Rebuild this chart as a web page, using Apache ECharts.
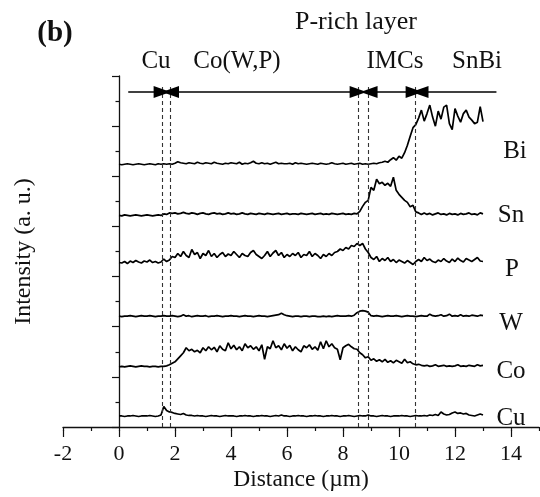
<!DOCTYPE html>
<html>
<head>
<meta charset="utf-8">
<script src="https://cdn.jsdelivr.net/npm/echarts@6/dist/echarts.min.js"></script>
<style>
  html, body { margin: 0; padding: 0; background: #fff; }
  #chart { width: 540px; height: 497px; }
</style>
</head>
<body>
<div id="chart"></div>
<script>
// sampling of the line scan, µm
var scanStart = 0
var scanStep = 0.1

// intensity profiles (a. u., vertically offset as in the figure)
var cu = [
  0.22,0.22,0.21,0.22,0.22,0.23,0.22,0.21,0.22,0.22,
  0.22,0.23,0.22,0.21,0.22,0.24,0.41,0.33,0.30,0.29,
  0.27,0.26,0.25,0.27,0.24,0.23,0.23,0.22,0.23,0.22,
  0.22,0.21,0.22,0.23,0.22,0.22,0.21,0.22,0.23,0.22,
  0.22,0.22,0.21,0.22,0.22,0.23,0.22,0.22,0.21,0.22,
  0.22,0.23,0.22,0.22,0.21,0.22,0.23,0.22,0.24,0.22,
  0.22,0.21,0.22,0.22,0.23,0.22,0.22,0.21,0.22,0.22,
  0.23,0.22,0.22,0.21,0.22,0.22,0.23,0.22,0.22,0.21,
  0.22,0.22,0.23,0.22,0.21,0.22,0.23,0.22,0.22,0.24,
  0.22,0.22,0.21,0.22,0.23,0.22,0.22,0.21,0.22,0.22,
  0.22,0.23,0.22,0.22,0.21,0.22,0.23,0.22,0.22,0.23,
  0.22,0.24,0.23,0.25,0.23,0.30,0.26,0.24,0.25,0.28,
  0.30,0.27,0.28,0.26,0.27,0.24,0.23,0.22,0.24,0.26,
  0.24
]
var co = [
  1.20,1.21,1.20,1.21,1.22,1.21,1.20,1.21,1.22,1.21,
  1.21,1.20,1.21,1.21,1.20,1.21,1.21,1.22,1.24,1.27,
  1.30,1.36,1.42,1.48,1.58,1.52,1.55,1.50,1.53,1.48,
  1.58,1.52,1.60,1.54,1.59,1.50,1.62,1.55,1.52,1.68,
  1.56,1.63,1.54,1.60,1.52,1.66,1.58,1.62,1.55,1.60,
  1.52,1.64,1.35,1.60,1.56,1.72,1.58,1.62,1.54,1.66,
  1.57,1.63,1.52,1.60,1.54,1.50,1.62,1.58,1.64,1.55,
  1.60,1.53,1.70,1.56,1.72,1.60,1.66,1.58,1.55,1.34,
  1.58,1.62,1.65,1.60,1.56,1.55,1.48,1.44,1.38,1.40,
  1.33,1.36,1.31,1.34,1.30,1.35,1.29,1.32,1.28,1.33,
  1.30,1.27,1.35,1.28,1.30,1.26,1.24,1.25,1.23,1.22,
  1.23,1.21,1.22,1.24,1.21,1.22,1.23,1.21,1.22,1.21,
  1.22,1.24,1.21,1.22,1.21,1.23,1.22,1.21,1.24,1.22,
  1.23
]
var w = [
  2.21,2.20,2.21,2.21,2.22,2.21,2.20,2.21,2.22,2.21,
  2.21,2.22,2.21,2.20,2.21,2.21,2.22,2.21,2.21,2.22,
  2.21,2.20,2.21,2.24,2.21,2.22,2.20,2.21,2.22,2.21,
  2.21,2.22,2.20,2.21,2.21,2.22,2.21,2.20,2.21,2.21,
  2.22,2.21,2.21,2.20,2.21,2.22,2.21,2.21,2.20,2.21,
  2.22,2.21,2.21,2.20,2.21,2.22,2.23,2.24,2.27,2.24,
  2.22,2.21,2.20,2.21,2.21,2.20,2.21,2.21,2.20,2.21,
  2.21,2.20,2.20,2.21,2.20,2.21,2.20,2.21,2.22,2.21,
  2.21,2.21,2.22,2.21,2.23,2.28,2.31,2.32,2.31,2.29,
  2.22,2.21,2.22,2.21,2.20,2.21,2.22,2.21,2.21,2.22,
  2.21,2.20,2.21,2.22,2.21,2.21,2.20,2.21,2.22,2.21,
  2.21,2.25,2.22,2.21,2.22,2.24,2.21,2.22,2.25,2.21,
  2.22,2.21,2.24,2.21,2.22,2.21,2.23,2.22,2.21,2.23,
  2.22
]
var p = [
  3.28,3.27,3.30,3.26,3.31,3.28,3.32,3.29,3.27,3.31,
  3.29,3.33,3.28,3.30,3.27,3.29,3.35,3.30,3.33,3.40,
  3.38,3.46,3.40,3.50,3.42,3.38,3.54,3.44,3.48,3.36,
  3.46,3.42,3.52,3.40,3.46,3.38,3.44,3.48,3.40,3.45,
  3.42,3.50,3.44,3.38,3.46,3.42,3.40,3.48,3.52,3.44,
  3.40,3.36,3.42,3.50,3.40,3.47,3.52,3.42,3.48,3.38,
  3.44,3.40,3.46,3.42,3.48,3.38,3.44,3.42,3.50,3.40,
  3.46,3.42,3.36,3.44,3.40,3.46,3.42,3.48,3.50,3.55,
  3.52,3.58,3.55,3.62,3.60,3.66,3.62,3.66,3.55,3.48,
  3.38,3.34,3.40,3.30,3.36,3.32,3.38,3.30,3.34,3.28,
  3.33,3.30,3.27,3.32,3.28,3.24,3.30,3.34,3.30,3.38,
  3.32,3.35,3.30,3.28,3.33,3.30,3.36,3.31,3.28,3.35,
  3.30,3.37,3.32,3.29,3.36,3.33,3.30,3.34,3.38,3.31,
  3.30
]
var sn = [
  4.22,4.21,4.23,4.22,4.21,4.22,4.23,4.22,4.21,4.22,
  4.23,4.22,4.21,4.22,4.23,4.22,4.25,4.24,4.27,4.26,
  4.27,4.25,4.26,4.28,4.26,4.25,4.27,4.26,4.24,4.26,
  4.27,4.25,4.24,4.26,4.27,4.25,4.26,4.24,4.25,4.27,
  4.25,4.26,4.24,4.25,4.27,4.25,4.24,4.26,4.25,4.24,
  4.26,4.25,4.24,4.26,4.25,4.24,4.25,4.26,4.24,4.25,
  4.26,4.24,4.25,4.25,4.24,4.26,4.25,4.24,4.25,4.26,
  4.24,4.25,4.26,4.24,4.25,4.24,4.26,4.25,4.24,4.25,
  4.26,4.24,4.25,4.24,4.26,4.25,4.30,4.40,4.48,4.52,
  4.78,4.72,4.94,4.85,4.88,4.82,4.86,4.80,4.98,4.72,
  4.64,4.58,4.52,4.48,4.39,4.42,4.29,4.27,4.24,4.27,
  4.24,4.26,4.23,4.25,4.27,4.24,4.25,4.23,4.26,4.24,
  4.25,4.23,4.26,4.24,4.25,4.27,4.24,4.25,4.23,4.27,
  4.25
]
var bi = [
  5.24,5.23,5.24,5.25,5.24,5.23,5.24,5.25,5.24,5.23,
  5.24,5.25,5.24,5.23,5.25,5.24,5.25,5.24,5.25,5.24,
  5.26,5.29,5.27,5.26,5.25,5.27,5.26,5.25,5.28,5.26,
  5.25,5.27,5.26,5.25,5.28,5.26,5.25,5.24,5.26,5.25,
  5.27,5.26,5.25,5.28,5.24,5.26,5.25,5.27,5.30,5.26,
  5.25,5.27,5.25,5.26,5.24,5.26,5.28,5.25,5.26,5.25,
  5.25,5.26,5.24,5.27,5.25,5.26,5.25,5.24,5.25,5.26,
  5.25,5.24,5.26,5.25,5.24,5.25,5.27,5.25,5.24,5.25,
  5.26,5.24,5.25,5.26,5.24,5.25,5.26,5.24,5.25,5.24,
  5.25,5.26,5.25,5.27,5.28,5.30,5.28,5.33,5.37,5.32,
  5.40,5.36,5.47,5.62,5.80,5.97,6.03,6.16,6.32,6.10,
  6.25,6.42,6.18,6.00,6.30,6.14,6.38,6.42,6.05,5.93,
  6.35,6.20,6.08,6.25,6.32,6.18,6.12,6.05,6.08,6.39,
  6.09
]

var profiles = [
  { name: 'Cu', values: cu },
  { name: 'Co', values: co },
  { name: 'W', values: w },
  { name: 'P', values: p },
  { name: 'Sn', values: sn },
  { name: 'Bi', values: bi }
]

// layer boundaries (dashed lines), µm
var boundaries = [1.54, 1.83, 8.54, 8.9, 10.57]
// arrows above the profiles: [from, to, head at start, head at end]
var arrows = [
  [0.33, 1.54, false, true],
  [1.84, 8.54, true, true],
  [8.93, 10.54, true, true],
  [10.75, 13.48, true, false]
]
var arrowY = 6.68
var dashTop = 6.84

var xTicksMajor = { min: -2, max: 14, interval: 2 }

var serif = '"Liberation Serif", "Times New Roman", serif'

var chart = echarts.init(document.getElementById('chart'), null, { renderer: 'canvas' })

var series = profiles.map(function (prof) {
  return {
    name: prof.name,
    type: 'line',
    xAxisIndex: 0,
    yAxisIndex: 0,
    symbol: 'none',
    silent: true,
    lineStyle: { color: '#000', width: 1.7 },
    data: prof.values.map(function (v, i) {
      return [+(scanStart + i * scanStep).toFixed(2), v]
    })
  }
})

var markData = []
boundaries.forEach(function (b) {
  markData.push([
    { coord: [b, 0], symbol: 'none', lineStyle: { type: [4, 3], color: '#333', width: 1.1 } },
    { coord: [b, dashTop], symbol: 'none' }
  ])
})
arrows.forEach(function (a) {
  markData.push([
    { coord: [a[0], arrowY], symbol: a[2] ? 'triangle' : 'none', symbolSize: [12, 17],
      lineStyle: { type: 'solid', color: '#000', width: 1.6 } },
    { coord: [a[1], arrowY], symbol: a[3] ? 'triangle' : 'none', symbolSize: [12, 17] }
  ])
})
series[0].markLine = {
  silent: true,
  animation: false,
  label: { show: false },
  emphasis: { disabled: true },
  itemStyle: { color: '#000' },
  data: markData
}

function txt(text, x, y, size, bold) {
  return {
    type: 'text',
    x: x, y: y,
    silent: true,
    style: {
      text: text,
      fill: '#111',
      font: (bold ? 'bold ' : '') + size + 'px ' + serif,
      align: 'center', verticalAlign: 'middle',
      textAlign: 'center', textVerticalAlign: 'middle'
    }
  }
}

var option = {
  animation: false,
  backgroundColor: '#fff',
  grid: [
    { left: 63, right: 1, top: 76, bottom: 67 },
    { left: 63, width: 448, top: 76, bottom: 67 }
  ],
  xAxis: [
    {
      type: 'value', gridIndex: 0, min: -2, max: 15, interval: 1,
      axisLine: { lineStyle: { color: '#111', width: 1.3 } },
      axisTick: { length: 4, lineStyle: { color: '#111', width: 1.2 } },
      axisLabel: { show: false },
      splitLine: { show: false },
      name: 'Distance (µm)', nameLocation: 'middle', nameGap: 41,
      nameTextStyle: { fontFamily: serif, fontSize: 23.5, color: '#111' }
    },
    {
      type: 'value', gridIndex: 1,
      min: xTicksMajor.min, max: xTicksMajor.max, interval: xTicksMajor.interval,
      axisLine: { show: false },
      axisTick: { length: 7, lineStyle: { color: '#111', width: 1.2 } },
      axisLabel: { margin: 13, fontFamily: serif, fontSize: 22, color: '#111' },
      splitLine: { show: false }
    }
  ],
  yAxis: [
    {
      type: 'value', gridIndex: 0, min: 0, max: 7, interval: 1,
      axisLine: { show: true, lineStyle: { color: '#111', width: 1.3 } },
      axisTick: { show: true, length: 7, lineStyle: { color: '#111', width: 1.2 } },
      minorTick: { show: true, splitNumber: 2, length: 3.5, lineStyle: { color: '#111', width: 1.2 } },
      axisLabel: { show: false },
      splitLine: { show: false },
      name: 'Intensity (a. u.)', nameLocation: 'middle', nameGap: 27,
      nameTextStyle: { fontFamily: serif, fontSize: 24, color: '#111' }
    },
    {
      type: 'value', gridIndex: 1, min: 0, max: 7, show: false
    }
  ],
  graphic: [
    txt('(b)', 55, 34, 29, true),
    txt('P-rich layer', 356, 22, 26),
    txt('Cu', 156, 61, 25),
    txt('Co(W,P)', 237, 61, 25),
    txt('IMCs', 395, 61, 25),
    txt('SnBi', 477, 61, 25),
    txt('Bi', 515, 151, 25),
    txt('Sn', 511, 215, 25),
    txt('P', 512, 269, 25),
    txt('W', 511, 323, 25),
    txt('Co', 511, 371, 25),
    txt('Cu', 511, 418, 25)
  ],
  series: series
}

chart.setOption(option)
</script>
</body>
</html>
